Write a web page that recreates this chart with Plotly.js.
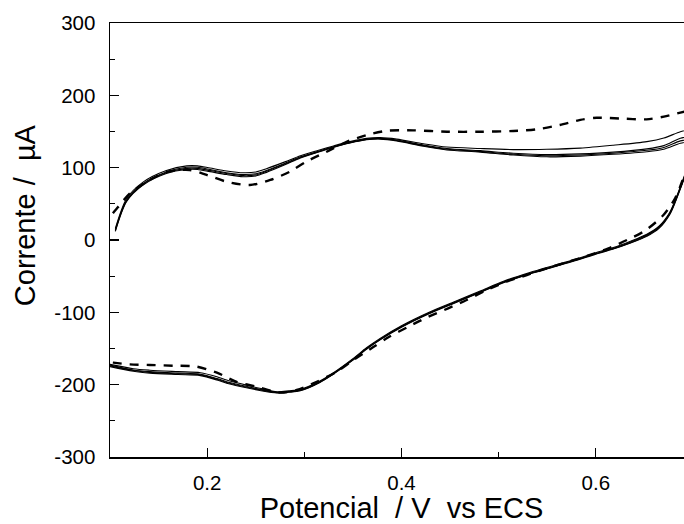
<!DOCTYPE html>
<html>
<head>
<meta charset="utf-8">
<script src="https://cdn.plot.ly/plotly-3.0.1.min.js"></script>
<style>
html,body{margin:0;padding:0;width:684px;height:524px;overflow:hidden;background:#fff;}
#chart{width:700px;height:524px;}
</style>
</head>
<body>
<div id="chart"></div>
<script>
// ---- anodic (upper) branch, solid cycles ----
const xUp = [0.1055, 0.117, 0.134, 0.158, 0.179, 0.190, 0.203, 0.220, 0.237, 0.250, 0.261, 0.280, 0.296, 0.313, 0.330, 0.347, 0.364, 0.378, 0.395, 0.4226, 0.4466, 0.481, 0.515, 0.5496, 0.584, 0.618, 0.6525, 0.670, 0.687, 0.700];
const cycle1Up = [16, 57, 80, 96, 102.5, 102.5, 99.5, 95.5, 93, 94, 98.5, 108, 116.5, 123.5, 130, 136, 140.5, 141.5, 139.5, 133, 128.5, 126.5, 125, 125.4, 127, 131, 136, 141, 149.7, 154];
const cycle2Up = [14, 55, 78, 94, 100.5, 100.5, 97.5, 93, 90.5, 91.5, 96, 106, 115, 122, 129, 135, 139.5, 140.5, 138.2, 131.3, 126.5, 123.5, 120, 118, 119, 121.5, 126, 130.5, 140.6, 144];
const cycle3Up = [13, 54, 77, 93, 99, 99, 96, 92, 89, 90, 95, 105, 114, 121.5, 128.5, 134.5, 139, 140, 137.5, 130.5, 125.5, 122.5, 118.5, 116.5, 117.5, 120, 124, 128, 137, 140];
const cycle4Up = [12, 53, 76, 92, 97.5, 97.5, 94.5, 90.5, 87.5, 88.5, 93.5, 104, 113.5, 121, 128, 134, 138.5, 139.5, 137, 129.5, 124.5, 121.5, 117.5, 115, 116, 118.5, 122, 125.5, 133.7, 137];

// ---- cathodic (lower) branch, solid cycles ----
const xDown = [0.700, 0.6885, 0.682, 0.676, 0.665, 0.6525, 0.635, 0.618, 0.600, 0.584, 0.560, 0.532, 0.505, 0.481, 0.455, 0.429, 0.400, 0.378, 0.364, 0.350, 0.330, 0.316, 0.296, 0.284, 0.272, 0.254, 0.234, 0.220, 0.210, 0.193, 0.170, 0.141, 0.124, 0.100];
const cycle1Down = [121, 79, 56, 38, 19, 8, -2, -10.5, -17.5, -24.5, -34, -45, -57, -70.5, -85, -99.5, -118.5, -136, -149, -164, -183.5, -195, -206.5, -208.5, -209.8, -205, -198.5, -193.5, -189, -183.5, -182, -180, -178, -172];
const cycle2Down = [120, 78, 55, 37, 18, 7, -3, -11.5, -18.5, -25.3, -35, -46, -58, -71.5, -86, -100.5, -119.5, -137, -150, -165, -184.3, -196, -207.4, -209.5, -210.6, -206.4, -200.5, -196, -191.5, -185.5, -184, -182, -179.7, -173];
const cycle3Down = [119, 77, 54, 36, 17, 6, -4, -12, -19, -26, -35.5, -46.5, -58.5, -72, -86.5, -101, -120, -137.5, -150.5, -165.5, -184.8, -196.5, -208, -210, -211, -207, -201.5, -197, -192.5, -186.5, -185, -183, -180.5, -174];
const cycle4Down = [118, 76, 53, 35, 16, 5, -4.5, -12.5, -19.5, -26.5, -36, -47, -59, -72.5, -87, -101.5, -120.5, -138, -151, -166, -185.3, -197, -208.5, -210.5, -211.5, -208, -202.5, -198, -193.5, -187.5, -186, -184, -181.5, -175];

// ---- dashed curve ----
const xDashUp = [0.103, 0.1055, 0.1206, 0.1378, 0.158, 0.182, 0.1995, 0.220, 0.244, 0.265, 0.285, 0.302, 0.323, 0.344, 0.364, 0.385, 0.412, 0.447, 0.481, 0.515, 0.539, 0.563, 0.584, 0.601, 0.625, 0.652, 0.670, 0.687, 0.700];
const dashUp = [37, 41, 64.5, 80.6, 94, 96.8, 90, 80.6, 76, 83, 94.4, 108.3, 122, 136, 145, 151, 151.6, 149.7, 149.7, 150.7, 153, 159, 166, 169, 168, 166.8, 170.5, 176, 180];
const xDashDown = [0.700, 0.6885, 0.6816, 0.6696, 0.6507, 0.632, 0.613, 0.5907, 0.5496, 0.529, 0.508, 0.488, 0.467, 0.448, 0.4277, 0.407, 0.3865, 0.371, 0.3505, 0.3334, 0.3128, 0.2922, 0.275, 0.251, 0.2304, 0.210, 0.189, 0.165, 0.141, 0.1206, 0.1034, 0.100];
const dashDown = [128, 80, 57.6, 34.5, 12.9, 0, -11.5, -22.1, -39.2, -48.4, -57.6, -69, -83, -94.5, -106.1, -119.9, -134.5, -148, -166, -182, -196, -207.4, -211, -202.8, -196, -183.5, -175, -173.8, -172.8, -171.9, -169.6, -169];

// ---- ticks ----
const yTickVals = [-300, -200, -100, 0, 100, 200, 300];
const yTickText = ['-300', '-200', '-100', '0', '100', '200', '300'];
const xTickVals = [0.2, 0.4, 0.6];
const xTickText = ['0.2', '0.4', '0.6'];

const FONT = 'Liberation Sans, Arial, sans-serif';
const solid = {color: '#000', width: 1.1, shape: 'spline', smoothing: 0.8};
const dashed = {color: '#000', width: 2.4, dash: '9px,8px', shape: 'spline', smoothing: 0.8};

const solidUp = [cycle1Up, cycle2Up, cycle3Up, cycle4Up];
const solidDown = [cycle1Down, cycle2Down, cycle3Down, cycle4Down];
const traces = [];
solidUp.forEach(ys => traces.push({x: xUp, y: ys, mode: 'lines', line: solid}));
solidDown.forEach(ys => traces.push({x: xDown, y: ys, mode: 'lines', line: solid}));
traces.push({x: xDashUp, y: dashUp, mode: 'lines', line: dashed});
traces.push({x: xDashDown, y: dashDown, mode: 'lines', line: dashed});

const layout = {
  width: 700, height: 524,
  margin: {l: 110, r: 7, t: 23, b: 67},
  paper_bgcolor: '#fff', plot_bgcolor: '#fff',
  showlegend: false,
  font: {family: FONT, color: '#000', size: 20},
  xaxis: {
    range: [0.1, 0.7], showgrid: false, zeroline: false,
    showline: true, linecolor: '#000', linewidth: 1.5, mirror: true,
    tickmode: 'array', tickvals: xTickVals, ticktext: xTickText,
    ticks: 'inside', ticklen: 9, tickwidth: 1.3, tickcolor: '#000',
    ticklabelstandoff: 7,
    minor: {dtick: 0.1, tick0: 0.1, ticks: 'inside', ticklen: 5, tickwidth: 1.3, tickcolor: '#000', showgrid: false},
    tickfont: {family: FONT, size: 20.5, color: '#000'},
    title: {text: 'Potencial\u00a0 / V\u00a0 vs ECS', font: {family: FONT, size: 29, color: '#000'}, standoff: 10}
  },
  yaxis: {
    range: [-300, 300], showgrid: false, zeroline: false,
    showline: true, linecolor: '#000', linewidth: 1.5, mirror: true,
    tickmode: 'array', tickvals: yTickVals, ticktext: yTickText,
    ticks: 'inside', ticklen: 9, tickwidth: 1.3, tickcolor: '#000',
    ticklabelstandoff: 9,
    minor: {dtick: 50, tick0: 0, ticks: 'inside', ticklen: 5, tickwidth: 1.3, tickcolor: '#000', showgrid: false},
    tickfont: {family: FONT, size: 20.5, color: '#000'}
  },
  annotations: [{
    text: 'Corrente /\u00a0 \u00b5A', textangle: -90,
    xref: 'paper', yref: 'paper', x: -0.146, y: 0.557,
    xanchor: 'center', yanchor: 'middle', showarrow: false,
    font: {family: FONT, size: 29, color: '#000'}
  }]
};

Plotly.newPlot('chart', traces, layout, {staticPlot: true, displayModeBar: false});
</script>
</body>
</html>
